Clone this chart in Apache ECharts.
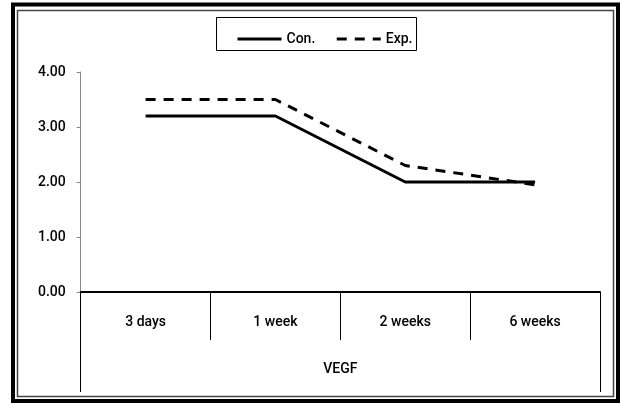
<!DOCTYPE html>
<html>
<head>
<meta charset="utf-8">
<script src="https://cdn.jsdelivr.net/npm/echarts@6/dist/echarts.min.js"></script>
<style>html,body{margin:0;padding:0;background:#fff}#c{width:621px;height:403px}</style>
</head>
<body>
<div id="c"></div>
<script>
var categories = ['3 days', '1 week', '2 weeks', '6 weeks'];
var groupLabels = ['VEGF'];
var conValues = [3.2, 3.2, 2.0, 2.0];
var expValues = [3.5, 3.5, 2.3, 1.95];
var seriesNames = ['Con.', 'Exp.'];
var yTicks = { min: 0, max: 4, interval: 1 };

var FONT = "Roboto,'Liberation Sans',sans-serif";
var W = 500;
var chart = echarts.init(document.getElementById('c'), null, { renderer: 'canvas' });
chart.setOption({
  animation: false,
  backgroundColor: '#fff',
  textStyle: { fontFamily: FONT },
  grid: { left: 80.7, right: 21, top: 72, bottom: 111, containLabel: false },
  legend: {
    left: 231, top: 27,
    itemWidth: 44, itemHeight: 14, itemGap: 20,
    itemStyle: { opacity: 0 },
    lineStyle: { width: 3 },
    textStyle: { fontFamily: FONT, fontSize: 14, fontWeight: W, color: '#000' },
    data: seriesNames
  },
  xAxis: [{
    type: 'category', data: categories, boundaryGap: true, position: 'bottom',
    axisLine: { lineStyle: { color: '#000', width: 2 } },
    axisTick: { show: true, interval: 0, length: 48, lineStyle: { color: '#000', width: 1 } },
    axisLabel: { interval: 0, margin: 23, fontFamily: FONT, fontSize: 14, fontWeight: W, color: '#000' }
  }, {
    type: 'category', data: groupLabels, boundaryGap: true, position: 'bottom', offset: 48,
    axisLine: { show: false },
    axisTick: { show: true, interval: 0, length: 52, inside: false, lineStyle: { color: '#000', width: 1 } },
    axisLabel: { interval: 0, margin: 22, fontFamily: FONT, fontSize: 14, fontWeight: W, color: '#000' }
  }],
  yAxis: {
    type: 'value', min: yTicks.min, max: yTicks.max, interval: yTicks.interval,
    axisLine: { show: true, lineStyle: { color: '#888', width: 1 } },
    axisTick: { show: true, length: 4, lineStyle: { color: '#888' } },
    splitLine: { show: false },
    axisLabel: { margin: 15, fontFamily: FONT, fontSize: 14, fontWeight: W, color: '#000',
      formatter: function (v) { return v.toFixed(2); } }
  },
  series: [{
    name: seriesNames[0], type: 'line', data: conValues, xAxisIndex: 0,
    symbol: 'none', color: '#000',
    lineStyle: { color: '#000', width: 3, type: 'solid' }
  }, {
    name: seriesNames[1], type: 'line', data: expValues, xAxisIndex: 0,
    symbol: 'none', color: '#000',
    lineStyle: { color: '#000', width: 3, type: [10, 8] }
  }],
  graphic: [
    { type: 'rect', silent: true, z: 100, shape: { x: 13, y: 4.5, width: 605, height: 396.5 },
      style: { fill: null, stroke: '#000', lineWidth: 4 } },
    { type: 'rect', silent: true, z: 100, shape: { x: 17.5, y: 10.5, width: 596, height: 386 },
      style: { fill: null, stroke: '#444', lineWidth: 1.5 } },
    { type: 'rect', silent: true, z: 100, shape: { x: 216.5, y: 17.5, width: 200, height: 33 },
      style: { fill: null, stroke: '#000', lineWidth: 1 } }
  ]
});
</script>
</body>
</html>
